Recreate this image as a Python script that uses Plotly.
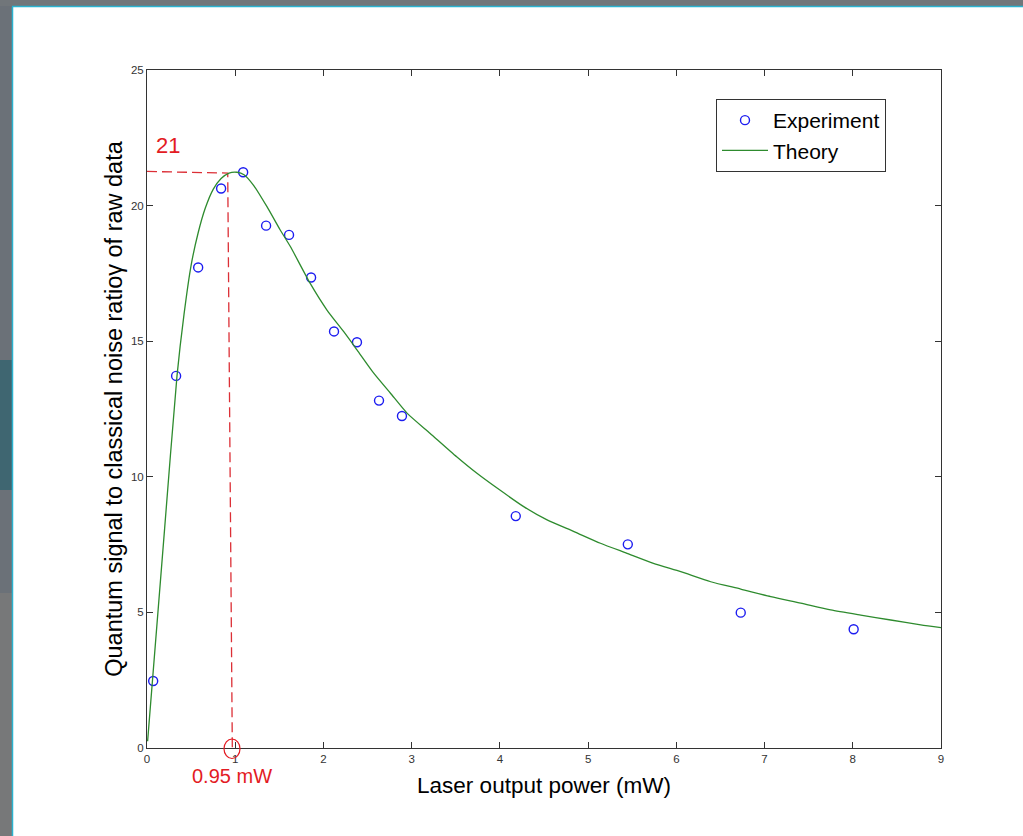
import plotly.graph_objects as go

# ---------------- data ----------------
exp_x = [0.07, 0.33, 0.58, 0.84, 1.09, 1.35, 1.61, 1.86, 2.12, 2.38, 2.63, 2.89, 4.18, 5.45, 6.73, 8.01]
exp_y = [2.47, 13.72, 17.72, 20.63, 21.23, 19.26, 18.92, 17.35, 15.36, 14.96, 12.81, 12.24, 8.55, 7.51, 4.99, 4.38]

theory_x = [0.007, 0.2, 0.34, 0.42, 0.50, 0.58, 0.66, 0.75, 0.84, 0.93, 1.02, 1.10, 1.21, 1.36,
            1.51, 1.625, 1.85, 2.04, 2.23, 2.38, 2.57, 2.76, 2.95, 3.21, 3.51, 3.74, 4.0, 4.27,
            4.535, 4.84, 5.14, 5.44, 5.74, 6.05, 6.39, 6.73, 7.07, 7.41, 7.75, 8.09, 8.43, 8.77, 9.0]
theory_y = [0.25, 8.1, 13.72, 16.0, 17.8, 19.0, 19.9, 20.6, 21.0, 21.2, 21.23, 21.14, 20.74, 19.96,
            19.10, 18.49, 17.13, 16.15, 15.35, 14.68, 13.82, 13.08, 12.34, 11.60, 10.74, 10.13, 9.51, 8.90,
            8.41, 7.98, 7.55, 7.18, 6.81, 6.50, 6.13, 5.86, 5.58, 5.34, 5.09, 4.90, 4.72, 4.54, 4.44]

guide_x = [0.0, 0.915, 0.967]
guide_y = [21.26, 21.2, 0.0]

peak_label = "21"
peak_label_x, peak_label_y = 0.236, 22.23
power_label = "0.95 mW"
power_x = 0.96

x_ticks = [0, 1, 2, 3, 4, 5, 6, 7, 8, 9]
y_ticks = [0, 5, 10, 15, 20, 25]

# ---------------- figure ----------------
W, H = 1023, 836
ML, MR, MT, MB = 147, 82, 70, 88
PW, PH = W - ML - MR, H - MT - MB


def px(xp):
    return (xp - ML) / PW


def py(yp):
    return (H - MB - yp) / PH


RED = "#e31b23"
FONT = "Arial, Liberation Sans, sans-serif"

fig = go.Figure()

fig.add_trace(go.Scatter(
    x=guide_x, y=guide_y, mode="lines", showlegend=False, hoverinfo="skip",
    line=dict(color="#dc2f36", width=1.3, dash="10px,5px"), cliponaxis=False,
))

fig.add_trace(go.Scatter(
    x=exp_x, y=exp_y, mode="markers", name="Experiment",
    marker=dict(symbol="circle-open", size=9, color="#1c1cf0", line=dict(width=1.4, color="#1c1cf0")),
))

fig.add_trace(go.Scatter(
    x=theory_x, y=theory_y, mode="lines", name="Theory",
    line=dict(color="#2e8b2e", width=1.3, shape="spline", smoothing=0.6),
))

shapes = [
    # slide background strips
    dict(type="rect", xref="paper", yref="paper", x0=px(-5), x1=px(12), y0=py(H + 5), y1=py(-5),
         fillcolor="#6b7178", line=dict(width=0), layer="below"),
    dict(type="rect", xref="paper", yref="paper", x0=px(-5), x1=px(12), y0=py(490), y1=py(360),
         fillcolor="#3f6671", line=dict(width=0), layer="below"),
    dict(type="rect", xref="paper", yref="paper", x0=px(-5), x1=px(12), y0=py(H + 5), y1=py(593),
         fillcolor="#777879", line=dict(width=0), layer="below"),
    dict(type="rect", xref="paper", yref="paper", x0=px(-5), x1=px(W + 5), y0=py(6), y1=py(-5),
         fillcolor="#71767a", line=dict(width=0), layer="below"),
    dict(type="line", xref="paper", yref="paper", x0=px(12), x1=px(W + 5), y0=py(6.5), y1=py(6.5),
         line=dict(color="#2bb3d0", width=1.5), layer="below"),
    dict(type="line", xref="paper", yref="paper", x0=px(12.5), x1=px(12.5), y0=py(H + 5), y1=py(6.5),
         line=dict(color="#2bb3d0", width=1.5), layer="below"),
    # red ellipse around the 0.95 mW mark
    dict(type="circle", xref="paper", yref="paper", x0=px(224), x1=px(240), y0=py(758.5), y1=py(739),
         line=dict(color=RED, width=1.2), layer="above"),
]

annotations = [
    dict(text=peak_label, x=peak_label_x, y=peak_label_y, xref="x", yref="y", showarrow=False,
         font=dict(family=FONT, size=22, color=RED)),
    dict(text=power_label, x=power_x, y=py(776), xref="x", yref="paper", showarrow=False,
         xanchor="center", yanchor="middle",
         font=dict(family=FONT, size=20, color=RED)),
]

axis_common = dict(
    showgrid=False, zeroline=False, showline=True, linecolor="#333333", linewidth=1,
    mirror="allticks", ticks="inside", ticklen=6, tickcolor="#333333", tickwidth=1,
    tickfont=dict(family=FONT, size=11.5, color="#333333"),
)

fig.update_layout(
    width=W, height=H,
    margin=dict(l=ML, r=MR, t=MT, b=MB, autoexpand=False),
    paper_bgcolor="white", plot_bgcolor="white",
    font=dict(family=FONT, color="black"),
    xaxis=dict(range=[0, 9], tickvals=x_ticks, ticktext=[str(v) for v in x_ticks],
               title=dict(text="Laser output power (mW)", font=dict(family=FONT, size=22.5, color="black"), standoff=13),
               **axis_common),
    yaxis=dict(range=[0, 25], tickvals=y_ticks, ticktext=[str(v) for v in y_ticks],
               title=dict(text="Quantum signal to classical noise ratioγ of raw data",
                          font=dict(family=FONT, size=23.5, color="black"), standoff=1),
               **axis_common),
    legend=dict(x=px(716), y=py(99), xanchor="left", yanchor="top",
                bordercolor="#333333", borderwidth=1, bgcolor="white",
                font=dict(family=FONT, size=21, color="black"), itemwidth=46,
                tracegroupgap=0),
    shapes=shapes,
    annotations=annotations,
    showlegend=True,
)

fig.write_html("out.html")
